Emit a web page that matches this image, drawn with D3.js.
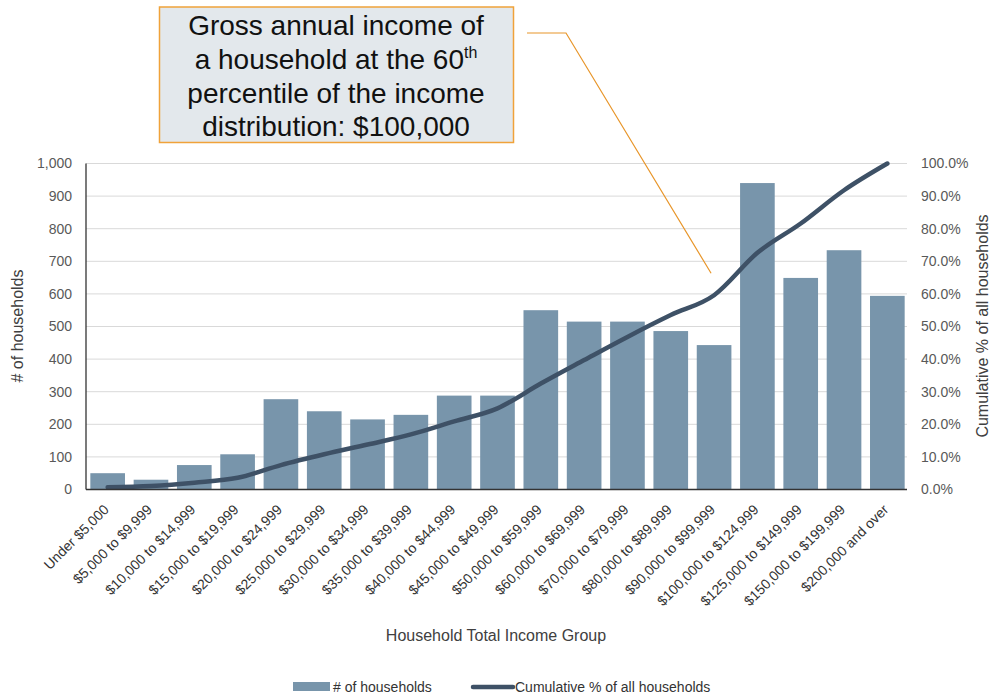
<!DOCTYPE html>
<html>
<head>
<meta charset="utf-8">
<script src="https://cdn.jsdelivr.net/npm/d3@7/dist/d3.min.js"></script>
<style>
  html, body { margin: 0; padding: 0; background: #fff; }
  svg { display: block; font-family: "Liberation Sans", Arial, sans-serif; }
</style>
</head>
<body>
<svg id="chart" width="998" height="695"></svg>
<script>
// Household income distribution
const categories = [
  "Under $5,000", "$5,000 to $9,999", "$10,000 to $14,999", "$15,000 to $19,999",
  "$20,000 to $24,999", "$25,000 to $29,999", "$30,000 to $34,999", "$35,000 to $39,999",
  "$40,000 to $44,999", "$45,000 to $49,999", "$50,000 to $59,999", "$60,000 to $69,999",
  "$70,000 to $79,999", "$80,000 to $89,999", "$90,000 to $99,999", "$100,000 to $124,999",
  "$125,000 to $149,999", "$150,000 to $199,999", "$200,000 and over"
];
const households = [50, 30, 75, 108, 277, 240, 215, 229, 288, 288, 550, 515, 515, 486, 443, 940, 649, 734, 594];
const cumulativePct = [0.7, 1.1, 2.1, 3.6, 7.5, 10.8, 13.8, 16.9, 20.9, 24.9, 32.5, 39.7, 46.8, 53.5, 59.6, 72.6, 81.6, 91.8, 100];
const leftTicks = [0, 100, 200, 300, 400, 500, 600, 700, 800, 900, 1000];
const rightTicks = [0, 10, 20, 30, 40, 50, 60, 70, 80, 90, 100];
const calloutLines = ["Gross annual income of", "a household at the 60", "percentile of the income", "distribution: $100,000"];

const svg = d3.select("#chart");
const plot = { left: 86, right: 909, top: 163.5, bottom: 489.5 };

const x = d3.scaleBand().domain(categories).range([plot.left, plot.right])
  .paddingInner(0.2).paddingOuter(0.1);
const y = d3.scaleLinear().domain([0, 1000]).range([plot.bottom, plot.top]);
const yPct = d3.scaleLinear().domain([0, 100]).range([plot.bottom, plot.top]);

// gridlines
svg.append("g").selectAll("line").data(leftTicks.slice(1)).join("line")
  .attr("x1", plot.left).attr("x2", plot.right - 2)
  .attr("y1", d => y(d)).attr("y2", d => y(d))
  .attr("stroke", "#d9d9d9").attr("stroke-width", 1);

// bars
svg.append("g").selectAll("rect").data(households).join("rect")
  .attr("x", (d, i) => x(categories[i]))
  .attr("width", x.bandwidth())
  .attr("y", d => y(d))
  .attr("height", d => y(0) - y(d))
  .attr("fill", "#7895ab");

// cumulative line
const line = d3.line()
  .x((d, i) => x(categories[i]) + x.bandwidth() / 2)
  .y(d => yPct(d))
  .curve(d3.curveMonotoneX);
svg.append("path").datum(cumulativePct)
  .attr("d", line).attr("fill", "none")
  .attr("stroke", "#3e5166").attr("stroke-width", 4.5)
  .attr("stroke-linecap", "round").attr("stroke-linejoin", "round");

// axes lines
svg.append("line").attr("x1", plot.left).attr("x2", plot.left)
  .attr("y1", plot.top).attr("y2", plot.bottom)
  .attr("stroke", "#222").attr("stroke-width", 1.2);
svg.append("line").attr("x1", plot.left).attr("x2", plot.right - 2)
  .attr("y1", plot.bottom).attr("y2", plot.bottom)
  .attr("stroke", "#333").attr("stroke-width", 1.5);

// left axis labels
const leftAxis = d3.axisLeft(y).tickValues(leftTicks).tickFormat(d3.format(",")).tickSize(0).tickPadding(14);
const gl = svg.append("g").attr("transform", `translate(${plot.left},0)`).call(leftAxis);
gl.select(".domain").remove();
gl.selectAll("text").attr("font-size", 14).attr("fill", "#595959")
  .attr("font-family", "Liberation Sans, Arial, sans-serif");

// right axis labels
const rightAxis = d3.axisRight(yPct).tickValues(rightTicks).tickFormat(d => d.toFixed(1) + "%").tickSize(0).tickPadding(12);
const gr = svg.append("g").attr("transform", `translate(${plot.right},0)`).call(rightAxis);
gr.select(".domain").remove();
gr.selectAll("text").attr("font-size", 14).attr("fill", "#595959")
  .attr("font-family", "Liberation Sans, Arial, sans-serif");

// x labels, rotated
svg.append("g").selectAll("text").data(categories).join("text")
  .attr("transform", d => `translate(${x(d) + x.bandwidth() / 2 + 2},${plot.bottom + 21}) rotate(-45)`)
  .attr("text-anchor", "end")
  .attr("font-size", 14).attr("fill", "#333")
  .text(d => d);

// axis titles
svg.append("text").attr("x", 496).attr("y", 641).attr("text-anchor", "middle")
  .attr("font-size", 16).attr("fill", "#404040").text("Household Total Income Group");
svg.append("text").attr("transform", "translate(23,326) rotate(-90)").attr("text-anchor", "middle")
  .attr("font-size", 16).attr("fill", "#404040").text("# of households");
svg.append("text").attr("transform", "translate(988,326) rotate(-90)").attr("text-anchor", "middle")
  .attr("font-size", 16).attr("fill", "#404040").text("Cumulative % of all households");

// legend
svg.append("rect").attr("x", 293).attr("y", 682).attr("width", 37).attr("height", 9).attr("fill", "#7895ab");
svg.append("text").attr("x", 333).attr("y", 692).attr("font-size", 14).attr("fill", "#333").text("# of households");
svg.append("line").attr("x1", 473).attr("x2", 513).attr("y1", 687).attr("y2", 687)
  .attr("stroke", "#3e5166").attr("stroke-width", 4.5).attr("stroke-linecap", "round");
svg.append("text").attr("x", 515).attr("y", 692).attr("font-size", 14).attr("fill", "#333").text("Cumulative % of all households");

// callout leader
svg.append("polyline")
  .attr("points", `527,33 566,33 ${x(categories[14]) + x.bandwidth() / 2 - 3},${yPct(cumulativePct[14]) - 22}`)
  .attr("fill", "none").attr("stroke", "#e8962a").attr("stroke-width", 1.2);

// callout box
svg.append("rect").attr("x", 159.5).attr("y", 7).attr("width", 354).attr("height", 135.5)
  .attr("fill", "#e3e8ec").attr("stroke", "#f0a23a").attr("stroke-width", 1.5);
const ct = svg.append("g").attr("font-size", 28).attr("fill", "#111").attr("text-anchor", "middle");
calloutLines.forEach((t, i) => {
  const tx = ct.append("text").attr("x", 336).attr("y", 35 + i * 33.8);
  tx.append("tspan").text(t);
  if (i === 1) tx.append("tspan").attr("font-size", 16).attr("dy", -11).text("th");
});
</script>
</body>
</html>
